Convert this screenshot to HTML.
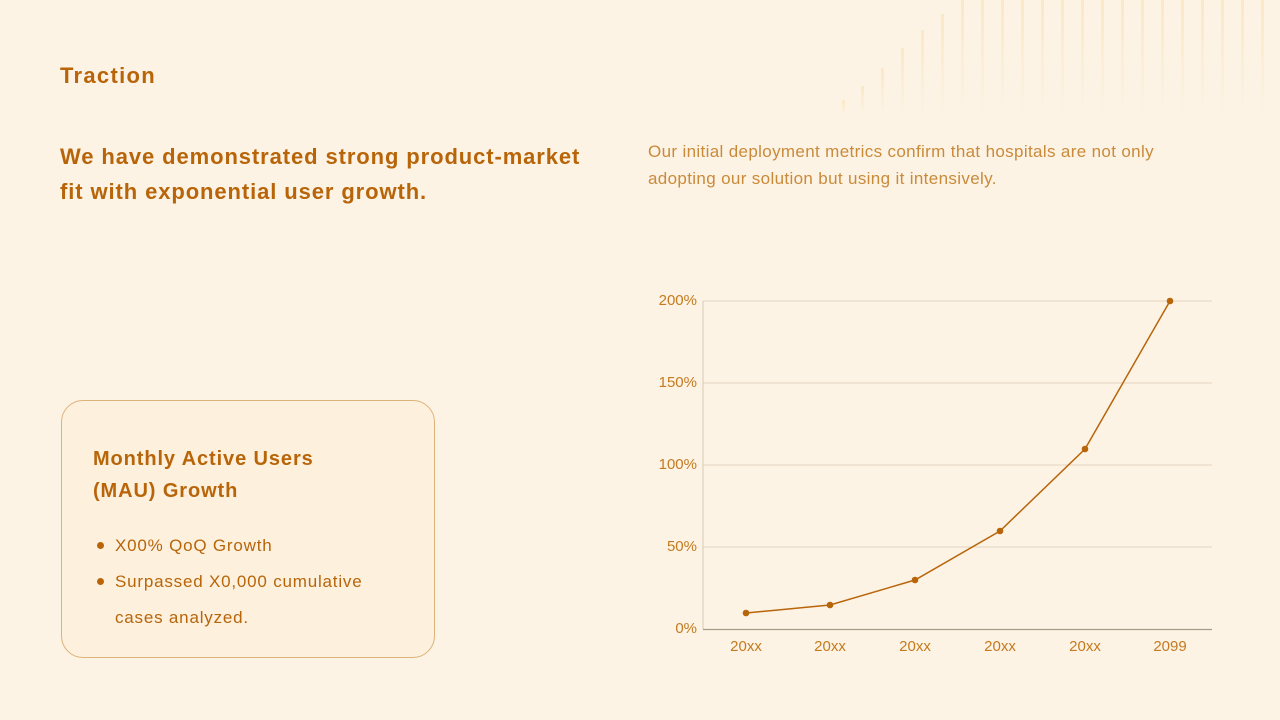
<!DOCTYPE html>
<html><head><meta charset="utf-8"><style>
html,body{margin:0;padding:0}
body{width:1280px;height:720px;background:#fdf3e4;position:relative;overflow:hidden;font-family:"Liberation Sans",sans-serif;color:#b8650a}
.t{position:absolute;left:60px;top:63px;font-size:22px;font-weight:bold;letter-spacing:1.3px}
.h{position:absolute;left:60px;top:139px;font-size:22px;font-weight:bold;line-height:35px;width:545px;letter-spacing:0.9px}
.p{position:absolute;left:648px;top:138px;font-size:17px;line-height:27px;color:#c98a3a;width:545px;letter-spacing:0.35px}
.card{position:absolute;left:61px;top:400px;width:372px;height:256px;border:1.5px solid #ddb27a;border-radius:22px;background:#fdf0dc}
.ct{position:absolute;left:31px;top:42px;font-size:20px;font-weight:bold;line-height:32px;letter-spacing:0.9px}
.li{position:absolute;left:53px;font-size:17px;line-height:36px;letter-spacing:0.8px}
.dot{position:absolute;left:35px;width:7px;height:7px;border-radius:50%;background:#b8650a}
</style></head><body>
<svg width="1280" height="130" style="position:absolute;left:0;top:0;opacity:0.55">
<defs><linearGradient id="g" x1="0" y1="0" x2="0" y2="1"><stop offset="0" stop-color="#fbdca6" stop-opacity="0.9"/><stop offset="1" stop-color="#fbdca6" stop-opacity="0"/></linearGradient></defs>
<rect x="842" y="100" width="3" height="15" fill="url(#g)"/>
<rect x="861" y="86" width="3" height="30" fill="url(#g)"/>
<rect x="881" y="68" width="3" height="48" fill="url(#g)"/>
<rect x="901" y="48" width="3" height="68" fill="url(#g)"/>
<rect x="921" y="30" width="3" height="86" fill="url(#g)"/>
<rect x="941" y="14" width="3" height="102" fill="url(#g)"/>
<rect x="961" y="0" width="3" height="116" fill="url(#g)"/>
<rect x="981" y="0" width="3" height="116" fill="url(#g)"/>
<rect x="1001" y="0" width="3" height="116" fill="url(#g)"/>
<rect x="1021" y="0" width="3" height="116" fill="url(#g)"/>
<rect x="1041" y="0" width="3" height="116" fill="url(#g)"/>
<rect x="1061" y="0" width="3" height="116" fill="url(#g)"/>
<rect x="1081" y="0" width="3" height="116" fill="url(#g)"/>
<rect x="1101" y="0" width="3" height="116" fill="url(#g)"/>
<rect x="1121" y="0" width="3" height="116" fill="url(#g)"/>
<rect x="1141" y="0" width="3" height="116" fill="url(#g)"/>
<rect x="1161" y="0" width="3" height="116" fill="url(#g)"/>
<rect x="1181" y="0" width="3" height="116" fill="url(#g)"/>
<rect x="1201" y="0" width="3" height="116" fill="url(#g)"/>
<rect x="1221" y="0" width="3" height="116" fill="url(#g)"/>
<rect x="1241" y="0" width="3" height="116" fill="url(#g)"/>
<rect x="1261" y="0" width="3" height="116" fill="url(#g)"/>
</svg>
<div class="t">Traction</div>
<div class="h">We have demonstrated strong product-market fit with exponential user growth.</div>
<div class="p">Our initial deployment metrics confirm that hospitals are not only adopting our solution but using it intensively.</div>
<div class="card">
<div class="ct">Monthly Active Users<br>(MAU) Growth</div>
<div class="dot" style="top:141px"></div><div class="li" style="top:127px">X00% QoQ Growth</div>
<div class="dot" style="top:177px"></div><div class="li" style="top:163px">Surpassed X0,000 cumulative<br>cases analyzed.</div>
</div>
<svg width="1280" height="720" style="position:absolute;left:0;top:0" font-family="Liberation Sans, sans-serif" font-size="15" fill="#c47a1e">
<g stroke="#e2d3c0" stroke-width="1">
<line x1="703" y1="301" x2="1212" y2="301"/>
<line x1="703" y1="383" x2="1212" y2="383"/>
<line x1="703" y1="465" x2="1212" y2="465"/>
<line x1="703" y1="547" x2="1212" y2="547"/>
</g>
<line x1="703" y1="301" x2="703" y2="629" stroke="#d8c8b4"/>
<line x1="703" y1="629.5" x2="1212" y2="629.5" stroke="#a89a88" stroke-width="1.2"/>
<g text-anchor="end">
<text x="697" y="305">200%</text><text x="697" y="387">150%</text><text x="697" y="469">100%</text><text x="697" y="551">50%</text><text x="697" y="633">0%</text>
</g>
<g text-anchor="middle">
<text x="746" y="651">20xx</text><text x="830" y="651">20xx</text><text x="915" y="651">20xx</text><text x="1000" y="651">20xx</text><text x="1085" y="651">20xx</text><text x="1170" y="651">2099</text>
</g>
<polyline points="746,613 830,605 915,580 1000,531 1085,449 1170,301" fill="none" stroke="#b8650a" stroke-width="1.5"/>
<g fill="#b8650a">
<circle cx="746" cy="613" r="3.3"/><circle cx="830" cy="605" r="3.3"/><circle cx="915" cy="580" r="3.3"/><circle cx="1000" cy="531" r="3.3"/><circle cx="1085" cy="449" r="3.3"/><circle cx="1170" cy="301" r="3.3"/>
</g>
</svg>
</body></html>
